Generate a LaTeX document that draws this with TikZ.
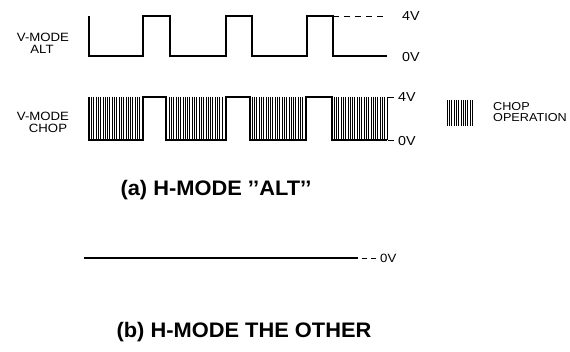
\documentclass[tikz,border=0pt]{standalone}
\usepackage{fontspec}
\newfontfamily\lab[FakeStretch=1.1]{Liberation Sans}
\newfontfamily\titlef[FakeStretch=1.04]{Liberation Sans}
\begin{document}
\begin{tikzpicture}[x=1pt,y=-1pt,
  trace/.style={line width=1.4pt,line join=miter},
  hatchline/.style={line width=0.5pt},
  lbl/.style={font=\lab\fontsize{12}{12}\selectfont,inner sep=0pt,align=center},
  volt/.style={font=\lab\fontsize{13}{13}\selectfont,inner sep=0pt,anchor=west},
  ttl/.style={font=\titlef\bfseries\fontsize{21}{22}\selectfont,inner sep=0pt}]
\useasboundingbox (0,0) rectangle (570,352);
% V-MODE ALT
\node[lbl] (altA) at (43,37) {V-MODE};
\node[lbl] (altB) at (42,49) {ALT};
\draw[trace] (89,16) -- (89,56) -- (143,56) -- (143,16) -- (170,16) -- (170,56)
  -- (226,56) -- (226,16) -- (252,16) -- (252,56) -- (307,56) -- (307,16)
  -- (333,16) -- (333,56) -- (387,56);
\coordinate (a4) at (387,16);
\coordinate (a4s) at (333,16);
\draw[line width=0.9pt,dash pattern=on 6pt off 5pt] (a4s) -- (a4);
\node[volt] (v4a) at (402,16) {4V};
\node[volt] (v0a) at (402,57) {0V};
% V-MODE CHOP
\node[lbl] (chA) at (43,116) {V-MODE};
\node[lbl] (chB) at (48,128) {CHOP};
\foreach \a/\b in {89/142,169/224,252/305,334/387}{
  \pgfmathsetmacro{\n}{int((\b-\a)/2.3)}
  \foreach \i in {0,...,\n}{
    \draw[hatchline] ({\a+\i*2.3},97) -- ({\a+\i*2.3},140);
  }
}
\draw[trace] (89,97) -- (89,140) -- (143,140) -- (143,97) -- (166,97) -- (166,140)
  -- (226,140) -- (226,97) -- (250,97) -- (250,140) -- (306,140) -- (306,97)
  -- (332,97) -- (332,140) -- (387,140);
\coordinate (c4a) at (388,97);
\coordinate (c4b) at (394,97);
\coordinate (c0a) at (388,140);
\coordinate (c0b) at (394,140);
\draw[line width=0.9pt] (c4a) -- (c4b);
\draw[line width=0.9pt] (c0a) -- (c0b);
\node[volt] (v4c) at (398,97) {4V};
\node[volt] (v0c) at (398,141) {0V};
% legend
\foreach \i in {0,...,11}{
  \draw[hatchline] ({447+\i*2.3},100) -- ({447+\i*2.3},126);
}
\node[lbl,anchor=west,align=left,font=\lab\fontsize{11.5}{11.5}\selectfont] (leg) at (493,112) {CHOP\\OPERATION};
% title a
\node[ttl] (ta) at (216,190) {(a) H-MODE ’’ALT’’};
% (b) line
\coordinate (b1) at (84,258);
\coordinate (b2) at (358,258);
\draw[line width=1.4pt] (b1) -- (b2);
\coordinate (b3) at (362,258);
\coordinate (b4) at (376,258);
\draw[line width=0.9pt,dash pattern=on 5pt off 4pt] (b3) -- (b4);
\node[volt,font=\lab\fontsize{12}{12}\selectfont] (v0b) at (380,258) {0V};
% title b
\node[ttl] (tb) at (244,332) {(b) H-MODE THE OTHER};
\end{tikzpicture}
\end{document}
